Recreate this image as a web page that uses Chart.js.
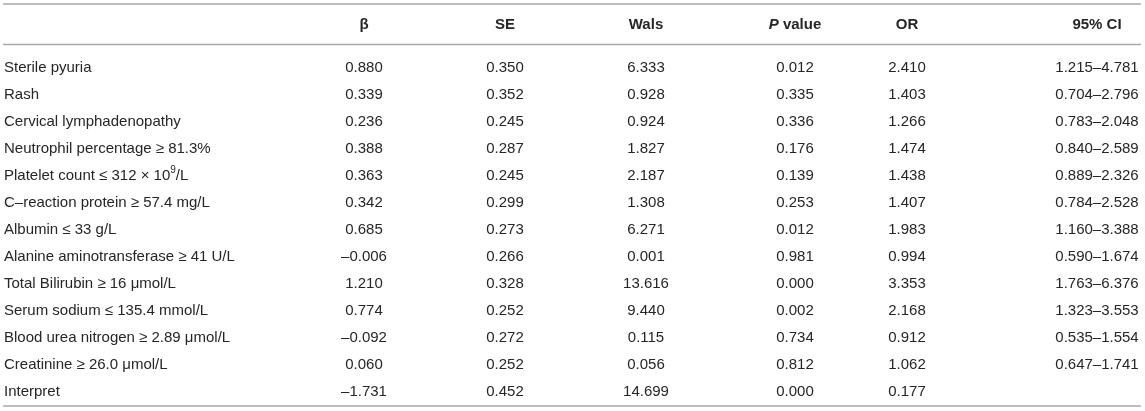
<!DOCTYPE html>
<html>
<head>
<meta charset="utf-8">
<script src="https://cdn.jsdelivr.net/npm/chart.js@4"></script>
<style>
    html, body { margin: 0; padding: 0; background: #ffffff; }
    #wrap { width: 1145px; height: 411px; position: relative; }
</style>
</head>
<body>
<div id="wrap"><canvas id="tableChart"></canvas></div>
<script>
// Table data
const headers = ['', 'β', 'SE', 'Wals', 'P value', 'OR', '95% CI'];
const rowLabels = [
    'Sterile pyuria',
    'Rash',
    'Cervical lymphadenopathy',
    'Neutrophil percentage ≥ 81.3%',
    'Platelet count ≤ 312 × 10^9/L',
    'C–reaction protein ≥ 57.4 mg/L',
    'Albumin ≤ 33 g/L',
    'Alanine aminotransferase ≥ 41 U/L',
    'Total Bilirubin ≥ 16 μmol/L',
    'Serum sodium ≤ 135.4 mmol/L',
    'Blood urea nitrogen ≥ 2.89 μmol/L',
    'Creatinine ≥ 26.0 μmol/L',
    'Interpret'
];
const beta = [0.880, 0.339, 0.236, 0.388, 0.363, 0.342, 0.685, -0.006, 1.210, 0.774, -0.092, 0.060, -1.731];
const se = [0.350, 0.352, 0.245, 0.287, 0.245, 0.299, 0.273, 0.266, 0.328, 0.252, 0.272, 0.252, 0.452];
const wals = [6.333, 0.928, 0.924, 1.827, 2.187, 1.308, 6.271, 0.001, 13.616, 9.440, 0.115, 0.056, 14.699];
const pValues = [0.012, 0.335, 0.336, 0.176, 0.139, 0.253, 0.012, 0.981, 0.000, 0.002, 0.734, 0.812, 0.000];
const oddsRatio = [2.410, 1.403, 1.266, 1.474, 1.438, 1.407, 1.983, 0.994, 3.353, 2.168, 0.912, 1.062, 0.177];
const ciLower = [1.215, 0.704, 0.783, 0.840, 0.889, 0.784, 1.160, 0.590, 1.763, 1.323, 0.535, 0.647, null];
const ciUpper = [4.781, 2.796, 2.048, 2.589, 2.326, 2.528, 3.388, 1.674, 6.376, 3.553, 1.554, 1.741, null];

// Layout (pixel-like units on the x scale, row units on the y scale)
const colX = [4, 364, 505, 646, 795, 907, 1097];
const colAlign = ['left', 'center', 'center', 'center', 'center', 'center', 'center'];
const headerRow = -1.6;
const rules = [-2.37, -0.87, 12.52];
const FONT = '"Liberation Sans", Arial, Helvetica, sans-serif';
const TEXT_COLOR = '#262626';

function fmt(v) {
    if (v === null) return '';
    const s = Math.abs(v).toFixed(3);
    return v < 0 ? '–' + s : s;
}

const columns = [
    rowLabels,
    beta.map(fmt),
    se.map(fmt),
    wals.map(fmt),
    pValues.map(fmt),
    oddsRatio.map(fmt),
    ciLower.map((lo, i) => lo === null ? '' : fmt(lo) + '–' + fmt(ciUpper[i]))
];

// one invisible scatter dataset per column; cells are placed by the scales
const datasets = columns.map((col, j) => ({
    label: headers[j],
    data: [{ x: colX[j], y: headerRow, text: headers[j], head: true }]
        .concat(col.map((t, i) => ({ x: colX[j], y: i, text: t }))),
    pointRadius: 0,
    showLine: false,
    align: colAlign[j]
}));

// draw text that may hold a ^superscript part
function drawRich(ctx, text, x, y, align, bold) {
    const base = (bold ? 'bold ' : '') + '15px ' + FONT;
    const sup = '10px ' + FONT;
    let parts = [];
    if (text === 'P value') {
        parts = [{ t: 'P', f: 'italic bold 15px ' + FONT, dy: 0 }, { t: ' value', f: base, dy: 0 }];
    } else {
        const m = text.match(/^(.*)\^(\d)(.*)$/);
        if (m) {
            parts = [{ t: m[1], f: base, dy: 0 }, { t: m[2], f: sup, dy: -6 }, { t: m[3], f: base, dy: 0 }];
        } else {
            parts = [{ t: text, f: base, dy: 0 }];
        }
    }
    let total = 0;
    parts.forEach(p => { ctx.font = p.f; p.w = ctx.measureText(p.t).width; total += p.w; });
    let cx = align === 'center' ? x - total / 2 : (align === 'right' ? x - total : x);
    ctx.textAlign = 'left';
    parts.forEach(p => {
        ctx.font = p.f;
        ctx.fillText(p.t, cx, y + p.dy);
        cx += p.w;
    });
}

const tablePlugin = {
    id: 'tableText',
    afterDatasetsDraw(chart) {
        const ctx = chart.ctx;
        const xs = chart.scales.x;
        const ys = chart.scales.y;
        ctx.save();

        // horizontal rules
        ctx.strokeStyle = '#a8a8a8';
        ctx.lineWidth = 1.6;
        rules.forEach(r => {
            const py = ys.getPixelForValue(r);
            ctx.beginPath();
            ctx.moveTo(xs.getPixelForValue(3), py);
            ctx.lineTo(xs.getPixelForValue(1141), py);
            ctx.stroke();
        });

        // cells
        ctx.fillStyle = TEXT_COLOR;
        ctx.textBaseline = 'middle';
        chart.data.datasets.forEach((ds, j) => {
            const meta = chart.getDatasetMeta(j);
            meta.data.forEach((pt, k) => {
                const d = ds.data[k];
                if (!d.text) return;
                drawRich(ctx, d.text, pt.x, pt.y, ds.align, !!d.head);
            });
        });
        ctx.restore();
    }
};

new Chart(document.getElementById('tableChart'), {
    type: 'scatter',
    data: { datasets: datasets },
    options: {
        responsive: true,
        maintainAspectRatio: false,
        animation: false,
        layout: { padding: 0 },
        plugins: {
            legend: { display: false },
            tooltip: { enabled: false }
        },
        scales: {
            x: { type: 'linear', display: false, min: 0, max: 1145 },
            y: { type: 'linear', display: false, reverse: true, min: -68 / 27, max: (411 - 68) / 27 }
        }
    },
    plugins: [tablePlugin]
});
</script>
</body>
</html>
